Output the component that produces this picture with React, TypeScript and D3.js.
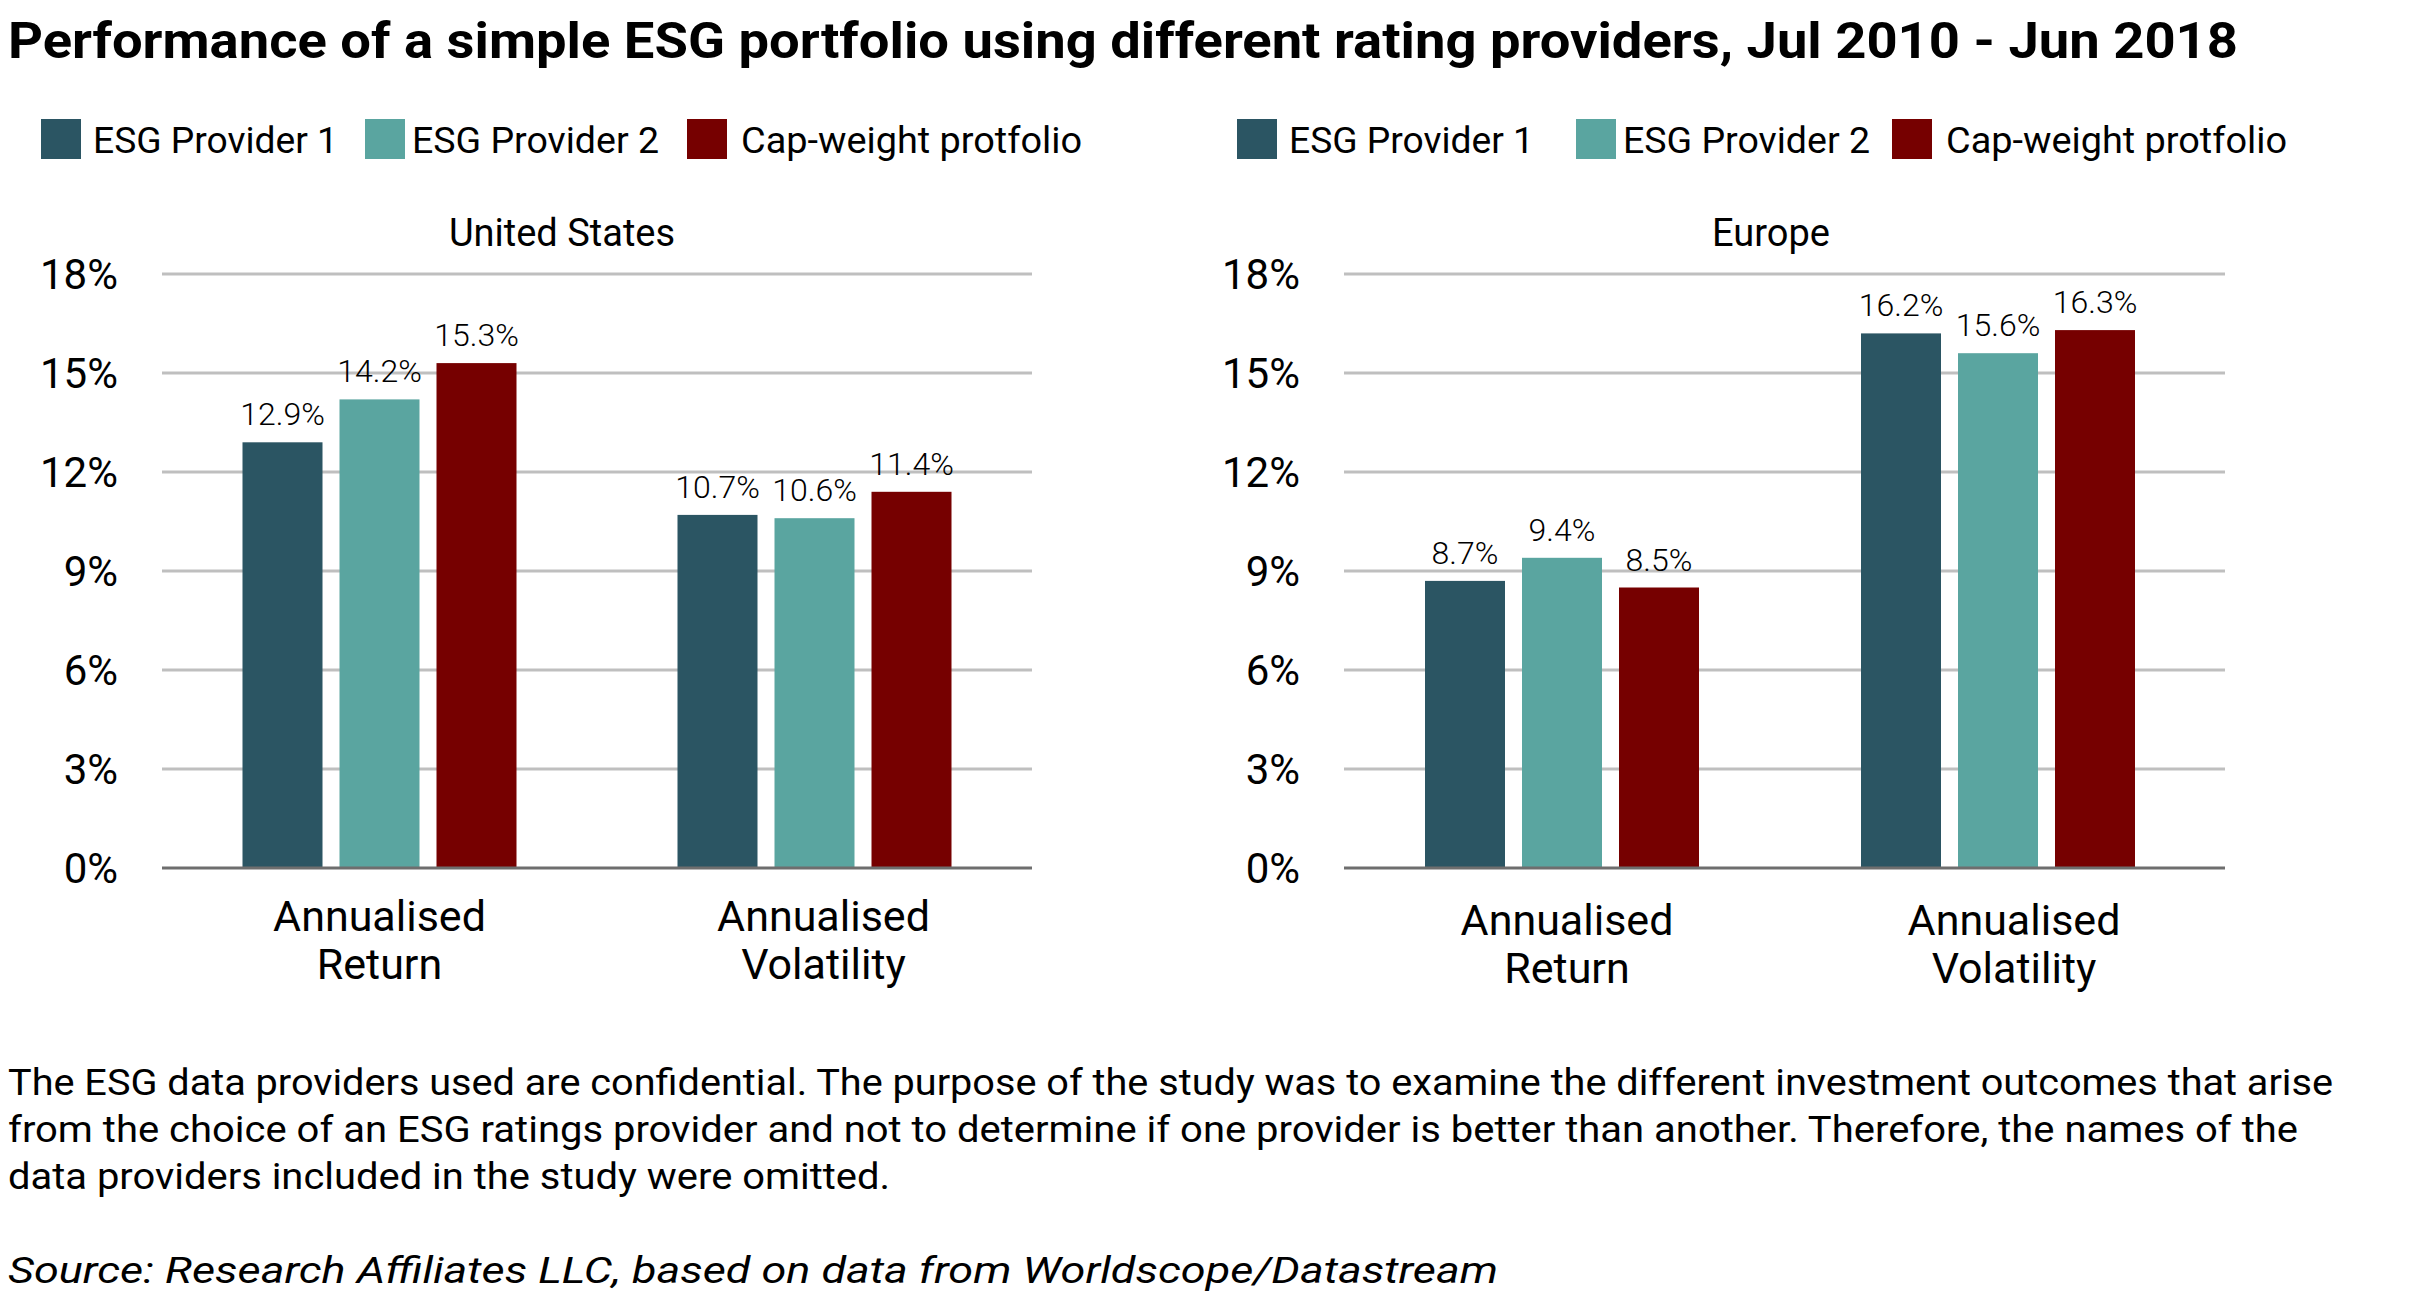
import React from "react";
import { scaleBand, scaleLinear } from "d3";

// chart data
const categories = ["Annualised Return", "Annualised Volatility"];
const categoryLines = [
  ["Annualised", "Return"],
  ["Annualised", "Volatility"],
];
const seriesNames = ["ESG Provider 1", "ESG Provider 2", "Cap-weight protfolio"];
const seriesColors = ["#2b5563", "#5aa5a0", "#760000"];
const usValues = [
  [12.9, 14.2, 15.3],
  [10.7, 10.6, 11.4],
];
const europeValues = [
  [8.7, 9.4, 8.5],
  [16.2, 15.6, 16.3],
];
const yTicks = [0, 3, 6, 9, 12, 15, 18];

const title =
  "Performance of a simple ESG portfolio using different rating providers, Jul 2010 - Jun 2018";
const noteLines = [
  "The ESG data providers used are confidential. The purpose of the study was to examine the different investment outcomes that arise",
  "from the choice of an ESG ratings provider and not to determine if one provider is better than another. Therefore, the names of the",
  "data providers included in the study were omitted.",
];
const sourceLine = "Source: Research Affiliates LLC, based on data from Worldscope/Datastream";

const W = 2415;
const H = 1304;
const FONT = "Roboto, 'Noto Sans', sans-serif";

// shared y scale (both panels use the same vertical layout)
const y = scaleLinear().domain([0, 18]).range([868, 274]);

interface PanelProps {
  name: string;
  values: number[][];
  x0: number;
  x1: number;
  gridEnd: number;
  titleX: number;
  labelX: number;
  legendX: number[];
  catY: number;
  catShift: number[];
}

function Legend({ xs }: { xs: number[] }) {
  const gaps = [12, 7, 14];
  const widths = [245, 247, 341];
  return (
    <g>
      {seriesNames.map((s, i) => (
        <g key={s}>
          <rect x={xs[i]} y={119} width={40} height={40} fill={seriesColors[i]} />
          <text
            x={xs[i] + 40 + gaps[i]}
            y={153}
            fontSize={36}
            fontFamily={FONT}
            fill="#000"
            textLength={widths[i]}
            lengthAdjust="spacingAndGlyphs"
          >
            {s}
          </text>
        </g>
      ))}
    </g>
  );
}

function Panel({ name, values, x0, x1, gridEnd, titleX, labelX, legendX, catY, catShift }: PanelProps) {
  const xCat = scaleBand().domain(categories).range([x0, x1]).padding(0);
  const groupW = 274;
  const xSer = scaleBand().domain(seriesNames).range([0, groupW]).paddingInner(17 / 97);

  return (
    <g>
      <Legend xs={legendX} />
      <text x={titleX} y={246} textAnchor="middle" fontSize={38} fontFamily={FONT}>
        {name}
      </text>

      {/* gridlines */}
      {yTicks
        .filter((t) => t > 0)
        .map((t) => (
          <line key={t} x1={x0} x2={gridEnd} y1={y(t)} y2={y(t)} stroke="#bfbfbf" strokeWidth={3} />
        ))}

      {/* y labels */}
      {yTicks.map((t) => (
        <text
          key={t}
          x={labelX}
          y={y(t)}
          dy="0.36em"
          textAnchor="end"
          fontSize={42}
          fontFamily={FONT}
        >
          {t}%
        </text>
      ))}

      {/* bars */}
      {categories.map((c, ci) => {
        const off = xCat(c)! + (xCat.bandwidth() - groupW) / 2;
        return (
          <g key={c} transform={`translate(${off},0)`}>
            {seriesNames.map((s, si) => {
              const v = values[ci][si];
              const bx = xSer(s)!;
              return (
                <g key={s}>
                  <rect
                    x={bx}
                    y={y(v)}
                    width={xSer.bandwidth()}
                    height={y(0) - y(v)}
                    fill={seriesColors[si]}
                  />
                  <text
                    x={bx + xSer.bandwidth() / 2}
                    y={y(v) - 17}
                    textAnchor="middle"
                    fontSize={32}
                    fontWeight={300}
                    fontFamily={FONT}
                  >
                    {v.toFixed(1)}%
                  </text>
                </g>
              );
            })}
          </g>
        );
      })}

      {/* baseline */}
      <line x1={x0} x2={gridEnd} y1={y(0)} y2={y(0)} stroke="#6e6e6e" strokeWidth={3} />

      {/* category labels */}
      {categories.map((c, ci) => {
        const cx = xCat(c)! + xCat.bandwidth() / 2 + catShift[ci];
        return (
          <text key={c} x={cx} y={catY} textAnchor="middle" fontSize={43} fontFamily={FONT}>
            {categoryLines[ci].map((l, li) => (
              <tspan key={l} x={cx} dy={li === 0 ? 0 : 48}>
                {l}
              </tspan>
            ))}
          </text>
        );
      })}
    </g>
  );
}

export default function App() {
  return (
    <div style={{ position: "absolute", left: 0, top: 0 }}>
      <svg width={W} height={H} viewBox={`0 0 ${W} ${H}`} style={{ display: "block", background: "#fff" }}>
        <text
          x={8}
          y={58}
          fontSize={50}
          fontWeight={700}
          fontFamily={FONT}
          textLength={2230}
          lengthAdjust="spacingAndGlyphs"
        >
          {title}
        </text>

        <Panel
          name="United States"
          values={usValues}
          x0={162}
          x1={1032}
          gridEnd={1032}
          titleX={562}
          labelX={118}
          legendX={[41, 365, 687]}
          catY={931}
          catShift={[0, 9]}
        />
        <Panel
          name="Europe"
          values={europeValues}
          x0={1344}
          x1={2216}
          gridEnd={2225}
          titleX={1771}
          labelX={1300}
          legendX={[1237, 1576, 1892]}
          catY={935}
          catShift={[5, 16]}
        />

        {noteLines.map((l, i) => (
          <text
            key={i}
            x={8}
            y={1095 + i * 47}
            fontSize={36}
            fontFamily={FONT}
            textLength={[2325, 2290, 882][i]}
            lengthAdjust="spacingAndGlyphs"
          >
            {l}
          </text>
        ))}
        <text
          x={8}
          y={1283}
          fontSize={36}
          fontStyle="italic"
          fontFamily={FONT}
          textLength={1490}
          lengthAdjust="spacingAndGlyphs"
        >
          {sourceLine}
        </text>
      </svg>
    </div>
  );
}
